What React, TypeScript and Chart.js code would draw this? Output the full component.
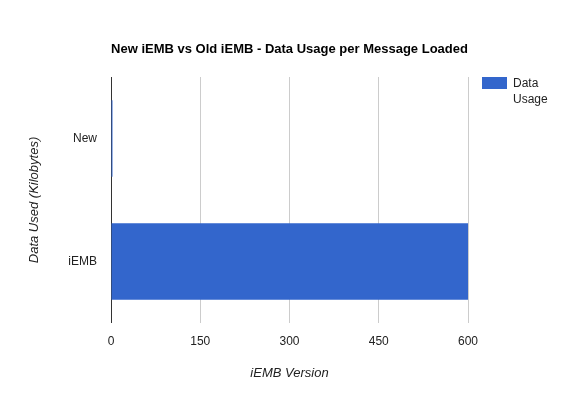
import React, { useEffect, useRef } from "react";
import { Chart, registerables } from "chart.js";

Chart.register(...registerables);

const categories = ["New", "iEMB"];
const dataUsage = [2.5, 600];
const xTicks = [0, 150, 300, 450, 600];
const seriesLabel = ["Data", "Usage"];
const chartTitle = "New iEMB vs Old iEMB - Data Usage per Message Loaded";
const xTitle = "iEMB Version";
const yTitle = "Data Used (Kilobytes)";

const FONT = "Arial, 'Liberation Sans', sans-serif";

const decorPlugin = {
  id: "decor",
  afterDraw(chart: any) {
    const ctx = chart.ctx;
    const area = chart.chartArea;
    ctx.save();
    // title centered on the canvas
    ctx.fillStyle = "#000000";
    ctx.font = `bold 13px ${FONT}`;
    ctx.textAlign = "center";
    ctx.textBaseline = "middle";
    ctx.fillText(chartTitle, chart.width / 2, 49);
    // legend
    const x = area.right + 14;
    const y = area.top;
    ctx.fillStyle = "#3366cc";
    ctx.fillRect(x, y, 25, 12);
    ctx.fillStyle = "#222222";
    ctx.font = `12px ${FONT}`;
    ctx.textBaseline = "middle";
    ctx.textAlign = "left";
    seriesLabel.forEach((t, i) => {
      ctx.fillText(t, x + 31, y + 7 + i * 16);
    });
    ctx.restore();
  },
};

export default function App() {
  const ref = useRef<HTMLCanvasElement>(null);
  useEffect(() => {
    const chart = new Chart(ref.current as HTMLCanvasElement, {
      type: "bar",
      data: {
        labels: categories,
        datasets: [
          {
            label: seriesLabel.join(" "),
            data: dataUsage,
            backgroundColor: "#3366cc",
            borderWidth: 0,
            barPercentage: 0.62,
            categoryPercentage: 1,
          },
        ],
      },
      options: {
        indexAxis: "y",
        animation: false,
        responsive: false,
        maintainAspectRatio: false,
        layout: { padding: { left: 0, right: 111, top: 77, bottom: 0 } },
        plugins: {
          legend: { display: false },
          tooltip: { enabled: false },
          title: { display: false },
        },
        scales: {
          x: {
            type: "linear",
            min: 0,
            max: 600,
            afterBuildTicks: (scale: any) => {
              scale.ticks = xTicks.map((v) => ({ value: v }));
            },
            afterFit: (scale: any) => {
              scale.height = 77;
            },
            grid: {
              drawTicks: false,
              color: (c: any) => (c.tick && c.tick.value === 0 ? "#333333" : "#cccccc"),
              lineWidth: 1,
            },
            border: { display: false },
            ticks: {
              color: "#222222",
              font: { family: FONT, size: 12 },
              padding: 11,
              maxRotation: 0,
            },
            title: {
              display: true,
              text: xTitle,
              color: "#222222",
              font: { family: FONT, size: 13, style: "italic" },
              padding: { top: 0, bottom: 19 },
            },
          },
          y: {
            type: "category",
            afterFit: (scale: any) => {
              scale.width = 111;
            },
            grid: { display: false, drawTicks: false },
            border: { display: false },
            ticks: {
              color: "#222222",
              font: { family: FONT, size: 12 },
              padding: 14,
            },
            title: {
              display: true,
              text: yTitle,
              color: "#222222",
              font: { family: FONT, size: 13, style: "italic" },
              padding: { top: 27, bottom: 0 },
            },
          },
        },
      },
      plugins: [decorPlugin],
    } as any);
    return () => chart.destroy();
  }, []);
  return (
    <div style={{ position: "fixed", left: 0, top: 0, width: 579, height: 400, background: "#ffffff" }}>
      <canvas ref={ref} width={579} height={400} style={{ width: 579, height: 400 }} />
    </div>
  );
}
